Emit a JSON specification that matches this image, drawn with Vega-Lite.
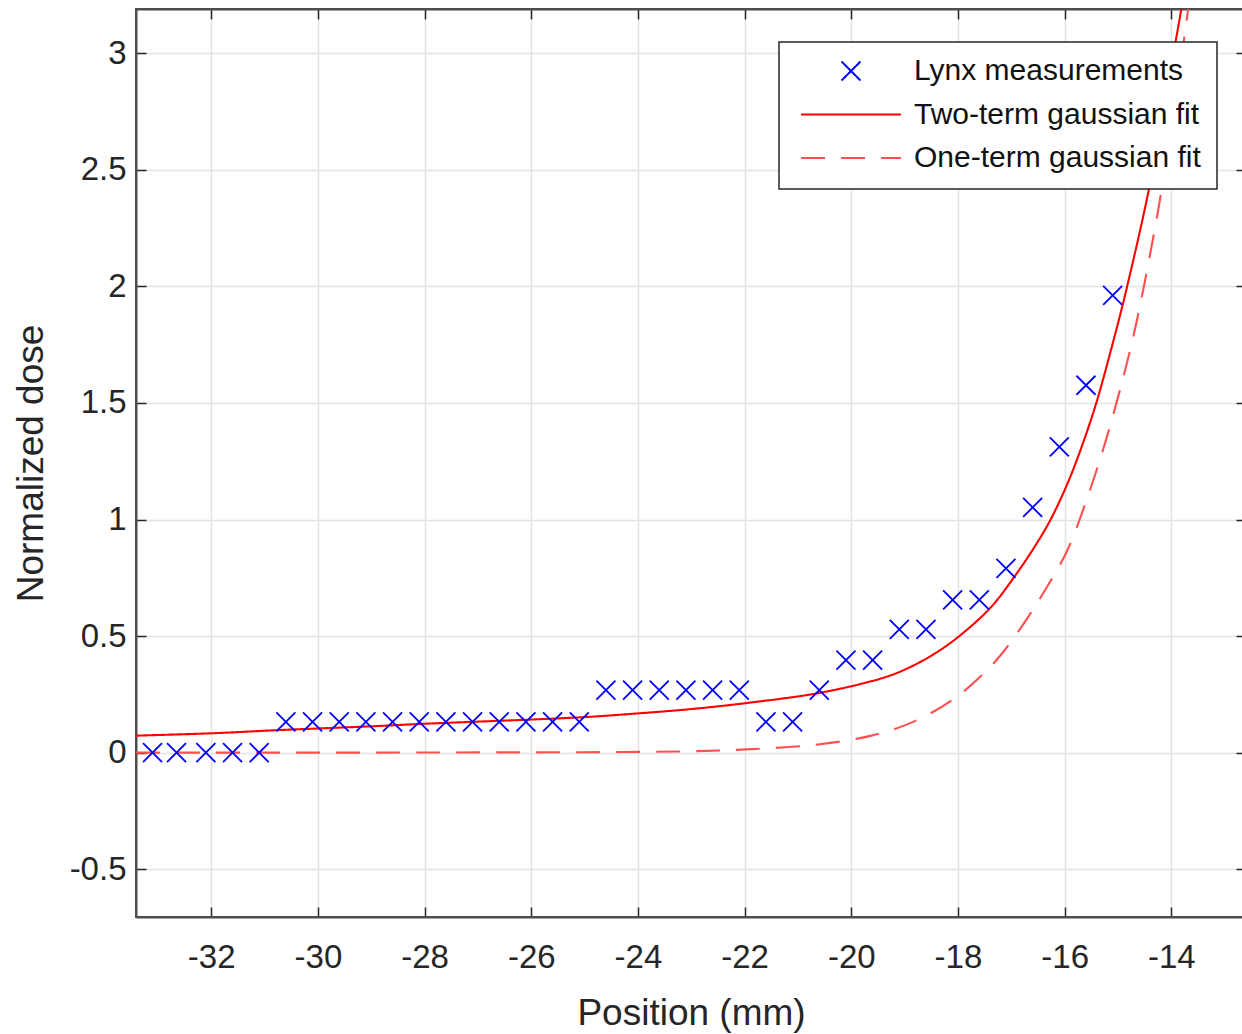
{
  "$schema": "https://vega.github.io/schema/vega-lite/v6.json",
  "width": 1110,
  "height": 908,
  "autosize": {"type": "none"},
  "padding": {"left": 136, "top": 9, "right": 0, "bottom": 117},
  "background": "white",
  "config": {
    "view": {"stroke": "#4d4d4d", "strokeWidth": 2},
    "font": "Liberation Sans",
    "axis": {
      "domainColor": "#4d4d4d",
      "domainWidth": 2,
      "tickColor": "#262626",
      "tickWidth": 1.5,
      "tickSize": -10,
      "labelColor": "#262626",
      "labelFontSize": 33,
      "labelFont": "Liberation Sans",
      "titleFont": "Liberation Sans",
      "titleFontSize": 37,
      "titleFontWeight": "normal",
      "titleColor": "#262626",
      "gridColor": "#e3e3e3",
      "gridWidth": 1.5
    },
    "legend": {
      "orient": "none",
      "legendX": 643,
      "legendY": 33,
      "fillColor": "white",
      "strokeColor": "#262626",
      "strokeWidth": 1.5,
      "padding": 16,
      "symbolSize": 10000,
      "clipHeight": 26,
      "rowPadding": 13.5,
      "symbolStrokeWidth": 2,
      "symbolOffset": 5,
      "labelOffset": 12,
      "labelFont": "Liberation Sans",
      "labelFontSize": 30,
      "labelColor": "#111111",
      "labelLimit": 500
    }
  },
  "datasets": {
    "meas": [
      {"pos": -33.1, "dose": 0, "series": "Lynx measurements"},
      {"pos": -32.65, "dose": 0, "series": "Lynx measurements"},
      {"pos": -32.1, "dose": 0, "series": "Lynx measurements"},
      {"pos": -31.6, "dose": 0, "series": "Lynx measurements"},
      {"pos": -31.1, "dose": 0, "series": "Lynx measurements"},
      {"pos": -30.6, "dose": 0.132, "series": "Lynx measurements"},
      {"pos": -30.1, "dose": 0.132, "series": "Lynx measurements"},
      {"pos": -29.6, "dose": 0.132, "series": "Lynx measurements"},
      {"pos": -29.1, "dose": 0.132, "series": "Lynx measurements"},
      {"pos": -28.6, "dose": 0.132, "series": "Lynx measurements"},
      {"pos": -28.1, "dose": 0.132, "series": "Lynx measurements"},
      {"pos": -27.6, "dose": 0.132, "series": "Lynx measurements"},
      {"pos": -27.1, "dose": 0.132, "series": "Lynx measurements"},
      {"pos": -26.6, "dose": 0.132, "series": "Lynx measurements"},
      {"pos": -26.1, "dose": 0.132, "series": "Lynx measurements"},
      {"pos": -25.6, "dose": 0.132, "series": "Lynx measurements"},
      {"pos": -25.1, "dose": 0.132, "series": "Lynx measurements"},
      {"pos": -24.6, "dose": 0.268, "series": "Lynx measurements"},
      {"pos": -24.1, "dose": 0.268, "series": "Lynx measurements"},
      {"pos": -23.6, "dose": 0.268, "series": "Lynx measurements"},
      {"pos": -23.1, "dose": 0.268, "series": "Lynx measurements"},
      {"pos": -22.6, "dose": 0.268, "series": "Lynx measurements"},
      {"pos": -22.1, "dose": 0.268, "series": "Lynx measurements"},
      {"pos": -21.6, "dose": 0.132, "series": "Lynx measurements"},
      {"pos": -21.1, "dose": 0.132, "series": "Lynx measurements"},
      {"pos": -20.6, "dose": 0.268, "series": "Lynx measurements"},
      {"pos": -20.1, "dose": 0.397, "series": "Lynx measurements"},
      {"pos": -19.6, "dose": 0.397, "series": "Lynx measurements"},
      {"pos": -19.1, "dose": 0.529, "series": "Lynx measurements"},
      {"pos": -18.6, "dose": 0.529, "series": "Lynx measurements"},
      {"pos": -18.1, "dose": 0.655, "series": "Lynx measurements"},
      {"pos": -17.6, "dose": 0.655, "series": "Lynx measurements"},
      {"pos": -17.1, "dose": 0.79, "series": "Lynx measurements"},
      {"pos": -16.6, "dose": 1.052, "series": "Lynx measurements"},
      {"pos": -16.1, "dose": 1.312, "series": "Lynx measurements"},
      {"pos": -15.6, "dose": 1.576, "series": "Lynx measurements"},
      {"pos": -15.1, "dose": 1.962, "series": "Lynx measurements"}
    ],
    "fits": [
      {"pos": -33.41, "dose": 0.073, "series": "Two-term gaussian fit"},
      {"pos": -32, "dose": 0.083, "series": "Two-term gaussian fit"},
      {"pos": -30.71, "dose": 0.097, "series": "Two-term gaussian fit"},
      {"pos": -29, "dose": 0.113, "series": "Two-term gaussian fit"},
      {"pos": -27.89, "dose": 0.125, "series": "Two-term gaussian fit"},
      {"pos": -26, "dose": 0.142, "series": "Two-term gaussian fit"},
      {"pos": -24.96, "dose": 0.153, "series": "Two-term gaussian fit"},
      {"pos": -24.14, "dose": 0.166, "series": "Two-term gaussian fit"},
      {"pos": -23, "dose": 0.187, "series": "Two-term gaussian fit"},
      {"pos": -21.96, "dose": 0.213, "series": "Two-term gaussian fit"},
      {"pos": -20.58, "dose": 0.257, "series": "Two-term gaussian fit"},
      {"pos": -19.46, "dose": 0.317, "series": "Two-term gaussian fit"},
      {"pos": -19.02, "dose": 0.354, "series": "Two-term gaussian fit"},
      {"pos": -18.5, "dose": 0.416, "series": "Two-term gaussian fit"},
      {"pos": -18.02, "dose": 0.492, "series": "Two-term gaussian fit"},
      {"pos": -17.39, "dose": 0.622, "series": "Two-term gaussian fit"},
      {"pos": -16.92, "dose": 0.762, "series": "Two-term gaussian fit"},
      {"pos": -16.58, "dose": 0.877, "series": "Two-term gaussian fit"},
      {"pos": -16.27, "dose": 0.997, "series": "Two-term gaussian fit"},
      {"pos": -15.955, "dose": 1.15, "series": "Two-term gaussian fit"},
      {"pos": -15.7, "dose": 1.3, "series": "Two-term gaussian fit"},
      {"pos": -15.42, "dose": 1.49, "series": "Two-term gaussian fit"},
      {"pos": -15.14, "dose": 1.72, "series": "Two-term gaussian fit"},
      {"pos": -14.86, "dose": 1.97, "series": "Two-term gaussian fit"},
      {"pos": -14.39, "dose": 2.45, "series": "Two-term gaussian fit"},
      {"pos": -13.96, "dose": 3.0, "series": "Two-term gaussian fit"},
      {"pos": -13.82, "dose": 3.18, "series": "Two-term gaussian fit"},
      {"pos": -13.6, "dose": 3.5, "series": "Two-term gaussian fit"},
      {"pos": -33.41, "dose": 0, "series": "One-term gaussian fit"},
      {"pos": -30, "dose": 0, "series": "One-term gaussian fit"},
      {"pos": -27, "dose": 0.001, "series": "One-term gaussian fit"},
      {"pos": -25, "dose": 0.002, "series": "One-term gaussian fit"},
      {"pos": -23, "dose": 0.006, "series": "One-term gaussian fit"},
      {"pos": -21.96, "dose": 0.014, "series": "One-term gaussian fit"},
      {"pos": -20.71, "dose": 0.033, "series": "One-term gaussian fit"},
      {"pos": -19.64, "dose": 0.072, "series": "One-term gaussian fit"},
      {"pos": -18.83, "dose": 0.133, "series": "One-term gaussian fit"},
      {"pos": -18.08, "dose": 0.23, "series": "One-term gaussian fit"},
      {"pos": -17.52, "dose": 0.339, "series": "One-term gaussian fit"},
      {"pos": -17.14, "dose": 0.435, "series": "One-term gaussian fit"},
      {"pos": -16.705, "dose": 0.575, "series": "One-term gaussian fit"},
      {"pos": -16.36, "dose": 0.70, "series": "One-term gaussian fit"},
      {"pos": -15.955, "dose": 0.865, "series": "One-term gaussian fit"},
      {"pos": -15.61, "dose": 1.07, "series": "One-term gaussian fit"},
      {"pos": -15.24, "dose": 1.33, "series": "One-term gaussian fit"},
      {"pos": -14.89, "dose": 1.62, "series": "One-term gaussian fit"},
      {"pos": -14.64, "dose": 1.86, "series": "One-term gaussian fit"},
      {"pos": -14.17, "dose": 2.43, "series": "One-term gaussian fit"},
      {"pos": -13.69, "dose": 3.18, "series": "One-term gaussian fit"},
      {"pos": -13.5, "dose": 3.52, "series": "One-term gaussian fit"}
    ]
  },
  "layer": [
    {
      "data": {"name": "fits"},
      "mark": {"type": "line", "clip": true, "strokeWidth": 2.1, "interpolate": "catmull-rom"},
      "encoding": {
        "x": {
          "field": "pos", "type": "quantitative",
          "scale": {"domain": [-33.41, -12.6], "nice": false, "zero": false},
          "axis": {
            "orient": "bottom",
            "title": "Position (mm)",
            "values": [-32, -30, -28, -26, -24, -22, -20, -18, -16, -14],
            "labelExpr": "'' + datum.value",
            "labelPadding": 34,
            "titlePadding": 21,
            "grid": true
          }
        },
        "y": {
          "field": "dose", "type": "quantitative",
          "scale": {"domain": [-0.705, 3.19], "nice": false, "zero": false},
          "axis": {
            "orient": "left",
            "title": "Normalized dose",
            "values": [-0.5, 0, 0.5, 1, 1.5, 2, 2.5, 3],
            "labelExpr": "'' + datum.value",
            "labelPadding": 20,
            "titlePadding": 19,
            "grid": true
          }
        },
        "color": {
          "field": "series", "type": "nominal", "title": null,
          "scale": {
            "domain": ["Lynx measurements", "Two-term gaussian fit", "One-term gaussian fit"],
            "range": ["#0000ff", "#ff0000", "#ff5050"]
          }
        },
        "strokeDash": {
          "field": "series", "type": "nominal", "title": null,
          "scale": {
            "domain": ["Lynx measurements", "Two-term gaussian fit", "One-term gaussian fit"],
            "range": [[1, 0], [1, 0], [24, 16]]
          }
        }
      }
    },
    {
      "data": {"name": "meas"},
      "mark": {"type": "point", "filled": false, "clip": true, "size": 10000, "strokeWidth": 1.8, "opacity": 1},
      "encoding": {
        "x": {
          "field": "pos", "type": "quantitative",
          "axis": {"orient": "top", "title": null, "labels": false, "grid": false,
                   "values": [-32, -30, -28, -26, -24, -22, -20, -18, -16, -14]}
        },
        "y": {
          "field": "dose", "type": "quantitative",
          "axis": {"orient": "right", "title": null, "labels": false, "grid": false,
                   "values": [-0.5, 0, 0.5, 1, 1.5, 2, 2.5, 3]}
        },
        "color": {"field": "series", "type": "nominal", "title": null},
        "shape": {
          "field": "series", "type": "nominal", "title": null,
          "scale": {
            "domain": ["Lynx measurements", "Two-term gaussian fit", "One-term gaussian fit"],
            "range": ["M-0.19,-0.19L0.19,0.19M-0.19,0.19L0.19,-0.19", "stroke", "stroke"]
          }
        }
      }
    }
  ],
  "resolve": {"axis": {"x": "independent", "y": "independent"}}
}
